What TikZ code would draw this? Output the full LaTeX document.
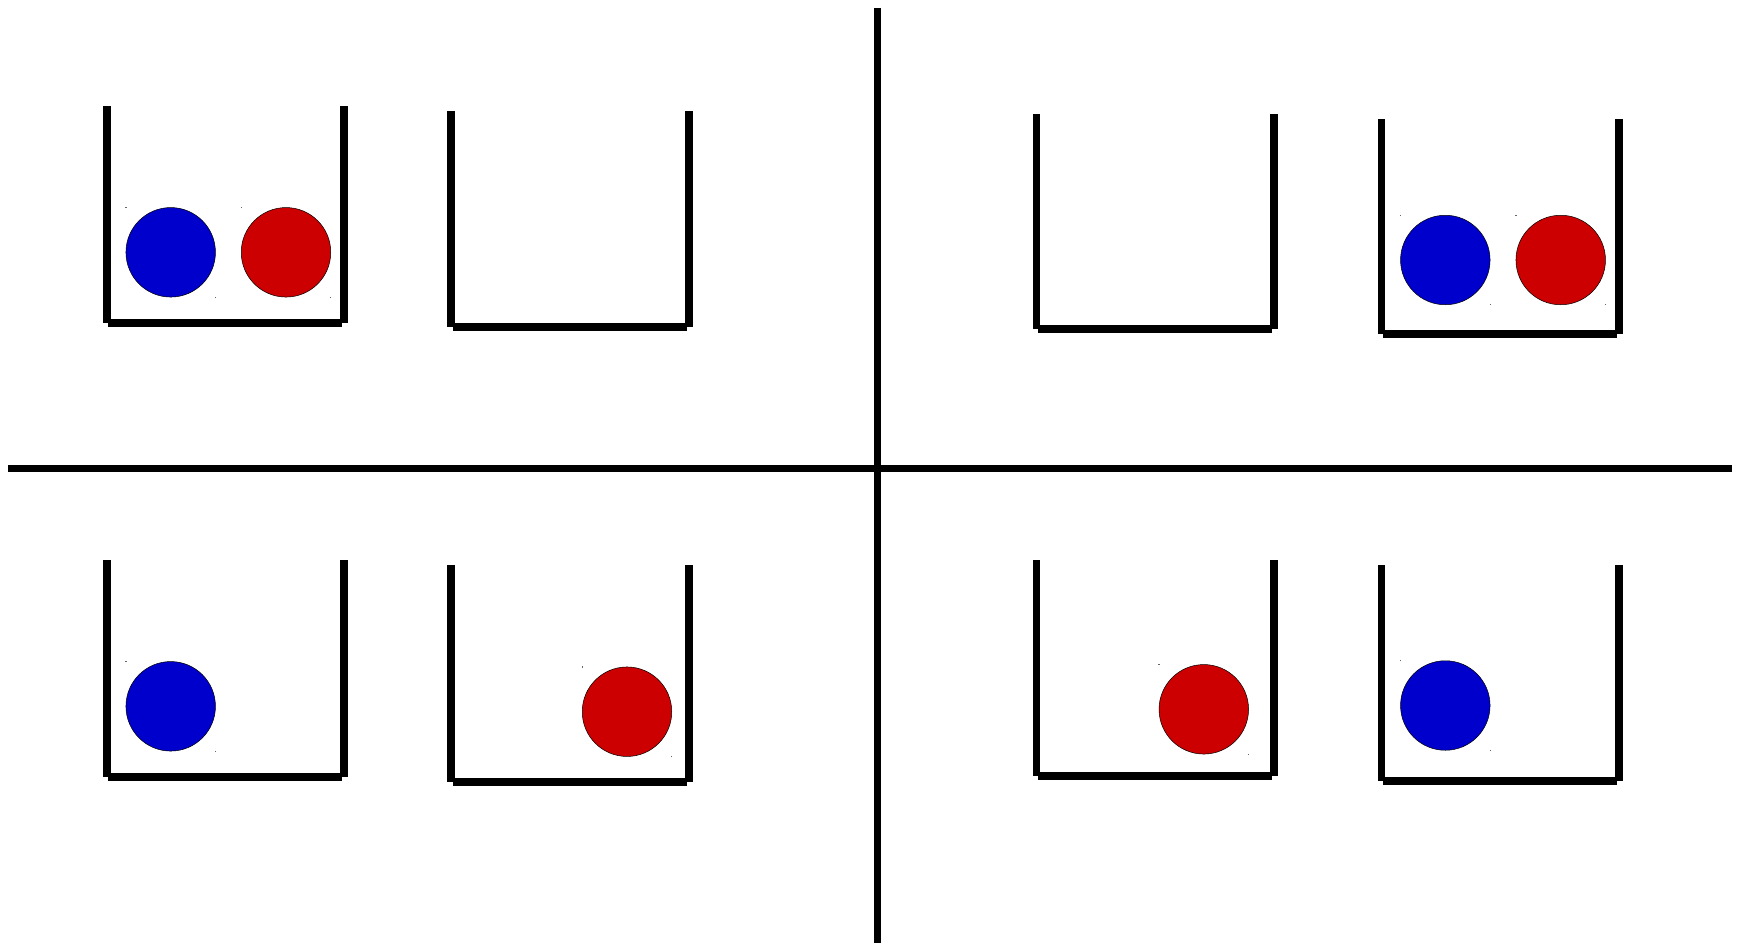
\documentclass[tikz,border=0pt]{standalone}
\usepackage{tikz}
\definecolor{ballblue}{RGB}{0,0,204}
\definecolor{ballred}{RGB}{204,0,0}
\tikzset{
  wall/.style={line width=7.6pt, line cap=butt, black},
  floor/.style={line width=8pt, line cap=butt, black},
  divider/.style={line width=6.5pt, line cap=butt, black},
  ball/.style={circle, draw=black, line width=0.5pt, minimum size=89.5pt, inner sep=0pt},
  speck/.style={fill=black!60, minimum size=1.2pt, inner sep=0pt, rectangle}
}
\newcommand\mybucket[4]{%
  \draw[wall] (#1,#3) -- (#1,#4);
  \draw[wall] (#2,#3) -- (#2,#4);
  \draw[floor] (#1+1.5,#4) -- (#2-1.5,#4);
}
\newcommand\myball[4]{% name, color, x, y
  \node[ball, fill=#2] (#1) at (#3,#4) {};
  \node[speck] at (#3-44.8,#4-44.8) {};
  \node[speck] at (#3+44.8,#4+44.8) {};
}
\begin{document}
\begin{tikzpicture}[x=1pt,y=-1pt]
\useasboundingbox[fill=white] (0,0) rectangle (1737,943);
% dividers
\coordinate (vtop) at (877.5,7.8);
\coordinate (vbot) at (877.5,943);
\coordinate (hl) at (7.8,468.6);
\coordinate (hr) at (1731.5,468.6);
\draw[divider] (hl) -- (hr);
\draw[divider] (vtop) -- (vbot);
% buckets
\mybucket{106.7}{343.8}{106}{322.5}
\mybucket{451.2}{688.8}{111}{327.2}
\mybucket{1036.5}{1273.8}{114}{329.2}
\mybucket{1381.5}{1618.8}{119}{334.2}
\mybucket{106.7}{343.8}{560}{776.8}
\mybucket{451.2}{688.8}{565}{781.8}
\mybucket{1036.5}{1273.8}{560}{775.5}
\mybucket{1381.5}{1618.8}{565}{780.5}
% balls
\myball{b1}{ballblue}{170.7}{252.3}
\myball{r1}{ballred}{286}{252.3}
\myball{b4}{ballblue}{1445.3}{260}
\myball{r4}{ballred}{1560.7}{260}
\myball{b5}{ballblue}{170.7}{706.3}
\myball{r6}{ballred}{627}{711.7}
\myball{r7}{ballred}{1203.8}{709.3}
\myball{b8}{ballblue}{1445.3}{705.5}
\end{tikzpicture}
\end{document}
